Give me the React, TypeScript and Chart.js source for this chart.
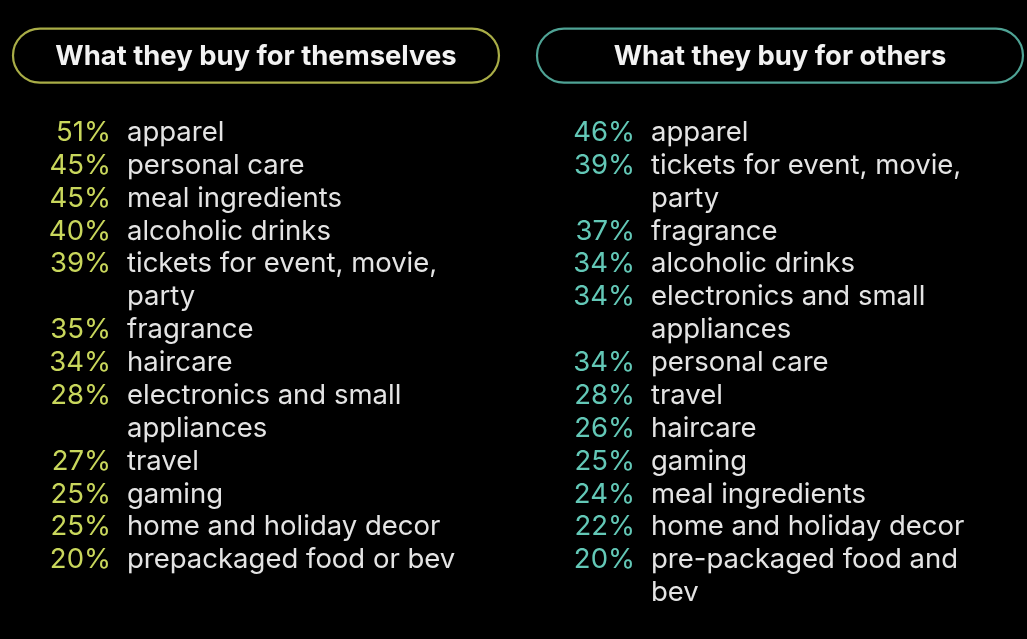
import React, { useEffect, useRef } from "react";
import { Chart, registerables } from "chart.js";

Chart.register(...registerables);

const panelTitles = ["What they buy for themselves", "What they buy for others"];
const selfPct = [51, 45, 45, 40, 39, 35, 34, 28, 27, 25, 25, 20];
const selfItems = [
  "apparel",
  "personal care",
  "meal ingredients",
  "alcoholic drinks",
  "tickets for event, movie,\nparty",
  "fragrance",
  "haircare",
  "electronics and small\nappliances",
  "travel",
  "gaming",
  "home and holiday decor",
  "prepackaged food or bev",
];
const othersPct = [46, 39, 37, 34, 34, 34, 28, 26, 25, 24, 22, 20];
const othersItems = [
  "apparel",
  "tickets for event, movie,\nparty",
  "fragrance",
  "alcoholic drinks",
  "electronics and small\nappliances",
  "personal care",
  "travel",
  "haircare",
  "gaming",
  "meal ingredients",
  "home and holiday decor",
  "pre-packaged food and\nbev",
];

const pctColors = ["#c9d75c", "#63c8b7"];
const pillColors = ["#a9ad47", "#4fa395"];
const TEXT = "#e4e4e4";
const FONT = "Inter, 'Noto Sans', sans-serif";

function buildRows(pcts: number[], items: string[], col: number) {
  const pts: any[] = [];
  let row = 0;
  items.forEach((it, i) => {
    const lines = it.split("\n");
    pts.push({ x: col, y: row, pct: pcts[i], lines });
    row += lines.length;
  });
  return pts;
}

const listPlugin = {
  id: "listText",
  afterDatasetsDraw(chart: any) {
    const ctx = chart.ctx;
    const xs = chart.scales.x;
    const ys = chart.scales.y;
    const step = Math.abs(ys.getPixelForValue(1) - ys.getPixelForValue(0));
    panelTitles.forEach((t, c) => {
      const cx = xs.getPixelForValue(c);
      const base = ys.getPixelForValue(-2.31);
      const cy = base - 9.5;
      const hw = 243;
      const hh = 27;
      ctx.save();
      ctx.strokeStyle = pillColors[c];
      ctx.lineWidth = 2.2;
      ctx.beginPath();
      ctx.roundRect(cx - hw, cy - hh, hw * 2, hh * 2, hh);
      ctx.stroke();
      ctx.fillStyle = "#f2f2f2";
      ctx.font = `bold 27.4px ${FONT}`;
      ctx.textAlign = "center";
      ctx.textBaseline = "alphabetic";
      ctx.fillText(t, cx, base);
      ctx.restore();
    });
    chart.data.datasets.forEach((ds: any, di: number) => {
      const meta = chart.getDatasetMeta(di);
      meta.data.forEach((el: any, i: number) => {
        const d = ds.data[i];
        ctx.save();
        ctx.font = `27.5px ${FONT}`;
        ctx.textBaseline = "alphabetic";
        ctx.textAlign = "right";
        ctx.fillStyle = pctColors[di];
        ctx.fillText(d.pct + "%", el.x - 145, el.y);
        ctx.textAlign = "left";
        ctx.fillStyle = TEXT;
        d.lines.forEach((ln: string, k: number) => {
          ctx.fillText(ln, el.x - 129, el.y + k * step);
        });
        ctx.restore();
      });
    });
  },
};

export default function App() {
  const ref = useRef<HTMLCanvasElement>(null);
  useEffect(() => {
    document.body.style.margin = "0";
    document.body.style.background = "#000";
    const chart = new Chart(ref.current!, {
      type: "scatter",
      data: {
        datasets: [
          { label: panelTitles[0], data: buildRows(selfPct, selfItems, 0), pointRadius: 0 },
          { label: panelTitles[1], data: buildRows(othersPct, othersItems, 1), pointRadius: 0 },
        ],
      },
      options: {
        animation: false,
        responsive: false,
        layout: { padding: 0 },
        plugins: { legend: { display: false }, tooltip: { enabled: false } },
        scales: {
          x: { type: "linear", min: -0.4885, max: 1.4714, display: false },
          y: { type: "linear", min: -4.29, max: 15.15, reverse: true, display: false },
        },
      },
      plugins: [listPlugin],
    });
    return () => chart.destroy();
  }, []);
  return (
    <div style={{ width: 1027, height: 639, background: "#000" }}>
      <canvas ref={ref} width={1027} height={639} style={{ display: "block" }} />
    </div>
  );
}
